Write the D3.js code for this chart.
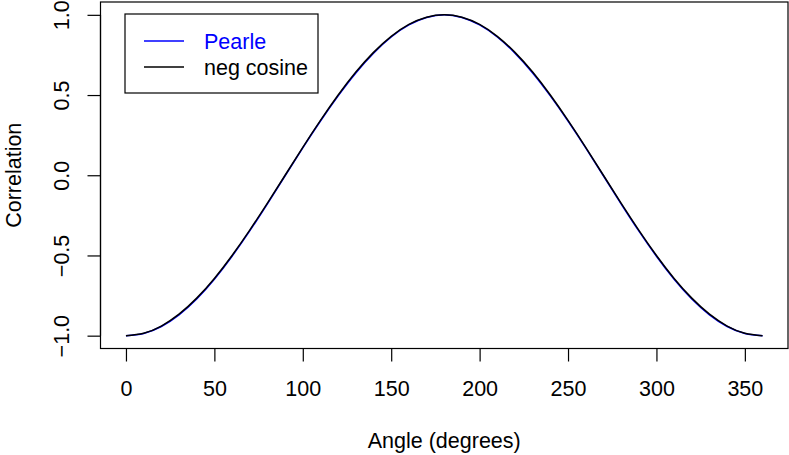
<!DOCTYPE html>
<html>
<head>
<meta charset="utf-8">
<script src="https://cdn.jsdelivr.net/npm/d3@7"></script>
<style>
  html, body { margin: 0; padding: 0; background: #fff; }
  svg { display: block; }
  text { font-family: "Liberation Sans", Arial, Helvetica, sans-serif; font-size: 21.5px; fill: #000; }
</style>
</head>
<body>
<svg id="chart" width="789" height="455"></svg>
<script>
// ---- data ----
const angles = [0,10,20,30,40,50,60,70,80,90,100,110,120,130,140,150,160,170,180,
                190,200,210,220,230,240,250,260,270,280,290,300,310,320,330,340,350,360];
const negCosine = [-1.000,-0.985,-0.940,-0.866,-0.766,-0.643,-0.500,-0.342,-0.174,0.000,
                   0.174,0.342,0.500,0.643,0.766,0.866,0.940,0.985,1.000,
                   0.985,0.940,0.866,0.766,0.643,0.500,0.342,0.174,0.000,
                   -0.174,-0.342,-0.500,-0.643,-0.766,-0.866,-0.940,-0.985,-1.000];
const pearle = [-1.000,-0.986,-0.943,-0.870,-0.771,-0.648,-0.505,-0.347,-0.178,-0.003,
                0.171,0.338,0.495,0.638,0.761,0.862,0.937,0.983,1.000,
                0.983,0.937,0.862,0.761,0.638,0.495,0.338,0.171,-0.003,
                -0.178,-0.347,-0.505,-0.648,-0.771,-0.870,-0.943,-0.986,-1.000];
const xTicks = [0,50,100,150,200,250,300,350];
const yTicks = [-1.0,-0.5,0.0,0.5,1.0];
const seriesNames = ["Pearle","neg cosine"];
const seriesColors = ["#0000ff","#000000"];

// ---- layout ----
const FS = 21.5;
const svg = d3.select("#chart");
const L = 100.5, R = 788, T = 2, B = 348.5;
const x = d3.scaleLinear().domain([-14.4, 374.4]).range([L, R]);
const y = d3.scaleLinear().domain([-1.08, 1.08]).range([B, T]);

// curves
const line = d3.line().x((d,i)=>x(angles[i])).y(d=>y(d)).curve(d3.curveNatural);
[pearle, negCosine].forEach((s, k) => {
  svg.append("path").attr("d", line(s))
    .attr("fill","none").attr("stroke", seriesColors[k]).attr("stroke-width",1.5);
});

// box
svg.append("rect").attr("x",L).attr("y",T).attr("width",R-L).attr("height",B-T)
  .attr("fill","none").attr("stroke","#000").attr("stroke-width",1.2);

// x axis
const xa = svg.append("g").attr("transform",`translate(0,${B})`)
  .call(d3.axisBottom(x).tickValues(xTicks).tickSize(13).tickSizeOuter(0).tickFormat(d3.format("d")));
xa.select(".domain").attr("d", `M${x(xTicks[0])},0H${x(xTicks[xTicks.length-1])}`).attr("stroke-width",1.2);
xa.selectAll("line").attr("stroke-width",1.2);
xa.selectAll("text").attr("font-size",FS).attr("font-family",null).attr("dy",null).attr("y",47.5);

// y axis
const ya = svg.append("g").attr("transform",`translate(${L},0)`)
  .call(d3.axisLeft(y).tickValues(yTicks).tickSize(13).tickSizeOuter(0).tickFormat(d3.format(".1f")));
ya.select(".domain").attr("d", `M0,${y(yTicks[0])}V${y(yTicks[yTicks.length-1])}`).attr("stroke-width",1.2);
ya.selectAll("line").attr("stroke-width",1.2);
ya.selectAll("text")
  .text(d => d3.format(".1f")(d).replace("-", "\u2212"))
  .attr("font-size",FS).attr("font-family",null)
  .attr("x",null).attr("dy",null)
  .attr("text-anchor","middle")
  .attr("transform","translate(-32,0) rotate(-90)");

// axis titles
svg.append("text").attr("x",(L+R)/2).attr("y",448).attr("text-anchor","middle").text("Angle (degrees)");
svg.append("text").attr("transform",`translate(21,${(T+B)/2}) rotate(-90)`).attr("text-anchor","middle").text("Correlation");

// legend
const lg = svg.append("g");
lg.append("rect").attr("x",125).attr("y",14).attr("width",193).attr("height",79)
  .attr("fill","#fff").attr("stroke","#000").attr("stroke-width",1.2);
seriesNames.forEach((n,i)=>{
  const yy = 41 + i*26;
  lg.append("line").attr("x1",144).attr("x2",184).attr("y1",yy).attr("y2",yy)
    .attr("stroke",seriesColors[i]).attr("stroke-width",1.5);
  lg.append("text").attr("x",204).attr("y",yy+7.5).style("fill",seriesColors[i]).text(n);
});
</script>
</body>
</html>
